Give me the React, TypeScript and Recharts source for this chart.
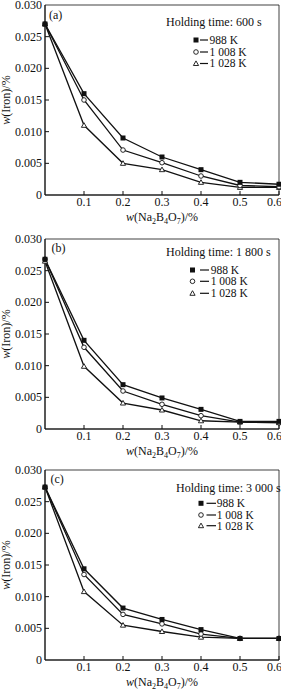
import React from "react";
import { LineChart, Line, XAxis, YAxis, ReferenceArea } from "recharts";

// ===== data =====
const X_VALUES = [0, 0.1, 0.2, 0.3, 0.4, 0.5, 0.6];
const X_TICKS = [0.1, 0.2, 0.3, 0.4, 0.5, 0.6];
const Y_TICKS = [0, 0.005, 0.01, 0.015, 0.02, 0.025, 0.03];
const SERIES_NAMES = ["988 K", "1 008 K", "1 028 K"];

// (a) holding time 600 s
const A_988 = [0.027, 0.016, 0.009, 0.006, 0.004, 0.002, 0.0017];
const A_1008 = [0.027, 0.015, 0.0071, 0.0051, 0.003, 0.0015, 0.0013];
const A_1028 = [0.027, 0.011, 0.005, 0.004, 0.002, 0.0012, 0.0012];

// (b) holding time 1 800 s
const B_988 = [0.0268, 0.014, 0.007, 0.0049, 0.0031, 0.0012, 0.0012];
const B_1008 = [0.0268, 0.0129, 0.006, 0.0039, 0.0021, 0.0011, 0.001];
const B_1028 = [0.0265, 0.0099, 0.0041, 0.003, 0.0013, 0.0011, 0.001];

// (c) holding time 3 000 s
const C_988 = [0.0273, 0.0144, 0.0082, 0.0064, 0.0048, 0.0034, 0.0034];
const C_1008 = [0.0273, 0.0135, 0.0072, 0.0057, 0.0041, 0.0034, 0.0034];
const C_1028 = [0.0273, 0.0108, 0.0055, 0.0045, 0.0036, 0.0034, 0.0034];

// ===== helpers =====
const FONT = "'Liberation Serif', 'Times New Roman', serif";
const INK = "#111";
const PAD = 5; // extra room above the plot so the top tick label is not clipped

const buildRows = (s1: number[], s2: number[], s3: number[]) =>
  X_VALUES.map((x, i) => ({ x, k988: s1[i], k1008: s2[i], k1028: s3[i] }));

const XTick = (props: any) => {
  const { x, y, payload } = props;
  const v = Number(payload.value);
  const last = v >= 0.6;
  return (
    <g>
      <line x1={x} x2={x} y1={y} y2={y - 4} stroke={INK} />
      <text
        x={last ? 282 : x}
        y={y + 11}
        textAnchor={last ? "end" : "middle"}
        fontSize={12}
        fontFamily={FONT}
        fill={INK}
      >
        {v.toFixed(1)}
      </text>
    </g>
  );
};

const YTick = (props: any) => {
  const { x, y, payload } = props;
  const v = Number(payload.value);
  return (
    <g>
      {v > 0 && v < 0.03 && <line x1={x} x2={x + 4} y1={y} y2={y} stroke={INK} />}
      <text x={x - 3} y={y + 4} textAnchor="end" fontSize={12} fontFamily={FONT} fill={INK}>
        {v === 0 ? "0" : v.toFixed(3)}
      </text>
    </g>
  );
};

const XTitle = (props: any) => {
  const vb = props.viewBox;
  return (
    <text x={vb.x + vb.width / 2} y={vb.y + 26} textAnchor="middle" fontSize={12} fontFamily={FONT} fill={INK}>
      <tspan fontStyle="italic">w</tspan>
      <tspan>(Na</tspan>
      <tspan dy={3} fontSize={8}>2</tspan>
      <tspan dy={-3}>B</tspan>
      <tspan dy={3} fontSize={8}>4</tspan>
      <tspan dy={-3}>O</tspan>
      <tspan dy={3} fontSize={8}>7</tspan>
      <tspan dy={-3}>)/%</tspan>
    </text>
  );
};

const YTitle = (props: any) => {
  const vb = props.viewBox;
  const cx = vb.x + 10;
  const cy = vb.y + vb.height / 2;
  return (
    <text x={cx} y={cy} transform={`rotate(-90 ${cx} ${cy})`} textAnchor="middle" fontSize={12} fontFamily={FONT} fill={INK}>
      <tspan fontStyle="italic">w</tspan>
      <tspan>(Iron)/%</tspan>
    </text>
  );
};

const Square = ({ cx, cy }: { cx: number; cy: number }) => (
  <rect x={cx - 2.5} y={cy - 2.5} width={5} height={5} fill={INK} />
);
const Circle = ({ cx, cy }: { cx: number; cy: number }) => (
  <circle cx={cx} cy={cy} r={2.3} fill="#fff" stroke={INK} strokeWidth={0.9} />
);
const Triangle = ({ cx, cy }: { cx: number; cy: number }) => (
  <polygon
    points={`${cx},${cy - 2.6} ${cx + 2.6},${cy + 2} ${cx - 2.6},${cy + 2}`}
    fill="#fff"
    stroke={INK}
    strokeWidth={0.9}
  />
);
const MARKERS = [Square, Circle, Triangle];

type LegendPos = {
  label: string;
  labelX: number;
  labelY: number;
  title: string;
  titleX: number;
  titleY: number;
  markX: number;
  lineX1: number;
  lineX2: number;
  textX: number;
  rows: number[];
};

const Overlay = ({ p }: { p: LegendPos }) => (
  <svg
    width={281}
    height={227}
    style={{ position: "absolute", left: 0, top: PAD, pointerEvents: "none" }}
  >
    <text x={p.labelX} y={p.labelY + 4} fontSize={12} fontFamily={FONT} fill={INK}>
      {p.label}
    </text>
    <text x={p.titleX} y={p.titleY + 4} fontSize={12} fontFamily={FONT} fill={INK}>
      {p.title}
    </text>
    {SERIES_NAMES.map((name, i) => {
      const M = MARKERS[i];
      const y = p.rows[i];
      return (
        <g key={name}>
          <M cx={p.markX} cy={y} />
          <line x1={p.lineX1} x2={p.lineX2} y1={y} y2={y} stroke={INK} strokeWidth={1.2} />
          <text x={p.textX} y={y + 3.8} fontSize={11.5} fontFamily={FONT} fill={INK}>
            {name}
          </text>
        </g>
      );
    })}
  </svg>
);

const Panel = ({ rows, top, legend }: { rows: any[]; top: number; legend: LegendPos }) => (
  <div style={{ position: "absolute", left: 0, top: top - PAD, width: 281, height: 227 + PAD }}>
    <LineChart
      width={281}
      height={227 + PAD}
      data={rows}
      margin={{ top: 5 + PAD, right: 2, bottom: 0, left: 0 }}
    >
      <XAxis
        dataKey="x"
        type="number"
        domain={[0, 0.6]}
        ticks={X_TICKS}
        interval={0}
        height={32}
        tickSize={0}
        tickMargin={0}
        tick={XTick}
        axisLine={{ stroke: INK }}
        label={(props: any) => <XTitle {...props} />}
      />
      <YAxis
        type="number"
        domain={[0, 0.03]}
        ticks={Y_TICKS}
        interval={0}
        width={45}
        tickSize={0}
        tickMargin={0}
        tick={YTick}
        axisLine={{ stroke: INK }}
        label={(props: any) => <YTitle {...props} />}
      />
      <ReferenceArea x1={0} x2={0.6} y1={0} y2={0.03} fill="none" stroke={INK} strokeOpacity={0.8} />
      <Line
        dataKey="k1028"
        stroke={INK}
        strokeWidth={1.3}
        dot={(d: any) => <Triangle key={d.index} cx={d.cx} cy={d.cy} />}
        isAnimationActive={false}
      />
      <Line
        dataKey="k1008"
        stroke={INK}
        strokeWidth={1.3}
        dot={(d: any) => <Circle key={d.index} cx={d.cx} cy={d.cy} />}
        isAnimationActive={false}
      />
      <Line
        dataKey="k988"
        stroke={INK}
        strokeWidth={1.3}
        dot={(d: any) => <Square key={d.index} cx={d.cx} cy={d.cy} />}
        isAnimationActive={false}
      />
    </LineChart>
    <Overlay p={legend} />
  </div>
);

const LEGEND_A: LegendPos = {
  label: "(a)", labelX: 49, labelY: 15,
  title: "Holding time: 600 s", titleX: 166, titleY: 22,
  markX: 196, lineX1: 200, lineX2: 208, textX: 209.5, rows: [40, 52, 63.5],
};
const LEGEND_B: LegendPos = {
  label: "(b)", labelX: 51.5, labelY: 13.5,
  title: "Holding time: 1 800 s", titleX: 166, titleY: 17.7,
  markX: 192.5, lineX1: 200, lineX2: 209, textX: 210.7, rows: [36, 47.3, 59.3],
};
const LEGEND_C: LegendPos = {
  label: "(c)", labelX: 50.5, labelY: 14.3,
  title: "Holding time: 3 000 s", titleX: 176, titleY: 23.3,
  markX: 201, lineX1: 206.5, lineX2: 216, textX: 216.7, rows: [38.3, 50, 60.7],
};

export default function App() {
  return (
    <div style={{ position: "absolute", left: 0, top: 0, width: 281, height: 692, background: "#fff", overflow: "hidden" }}>
      <Panel rows={buildRows(A_988, A_1008, A_1028)} top={0} legend={LEGEND_A} />
      <Panel rows={buildRows(B_988, B_1008, B_1028)} top={234} legend={LEGEND_B} />
      <Panel rows={buildRows(C_988, C_1008, C_1028)} top={465} legend={LEGEND_C} />
    </div>
  );
}
